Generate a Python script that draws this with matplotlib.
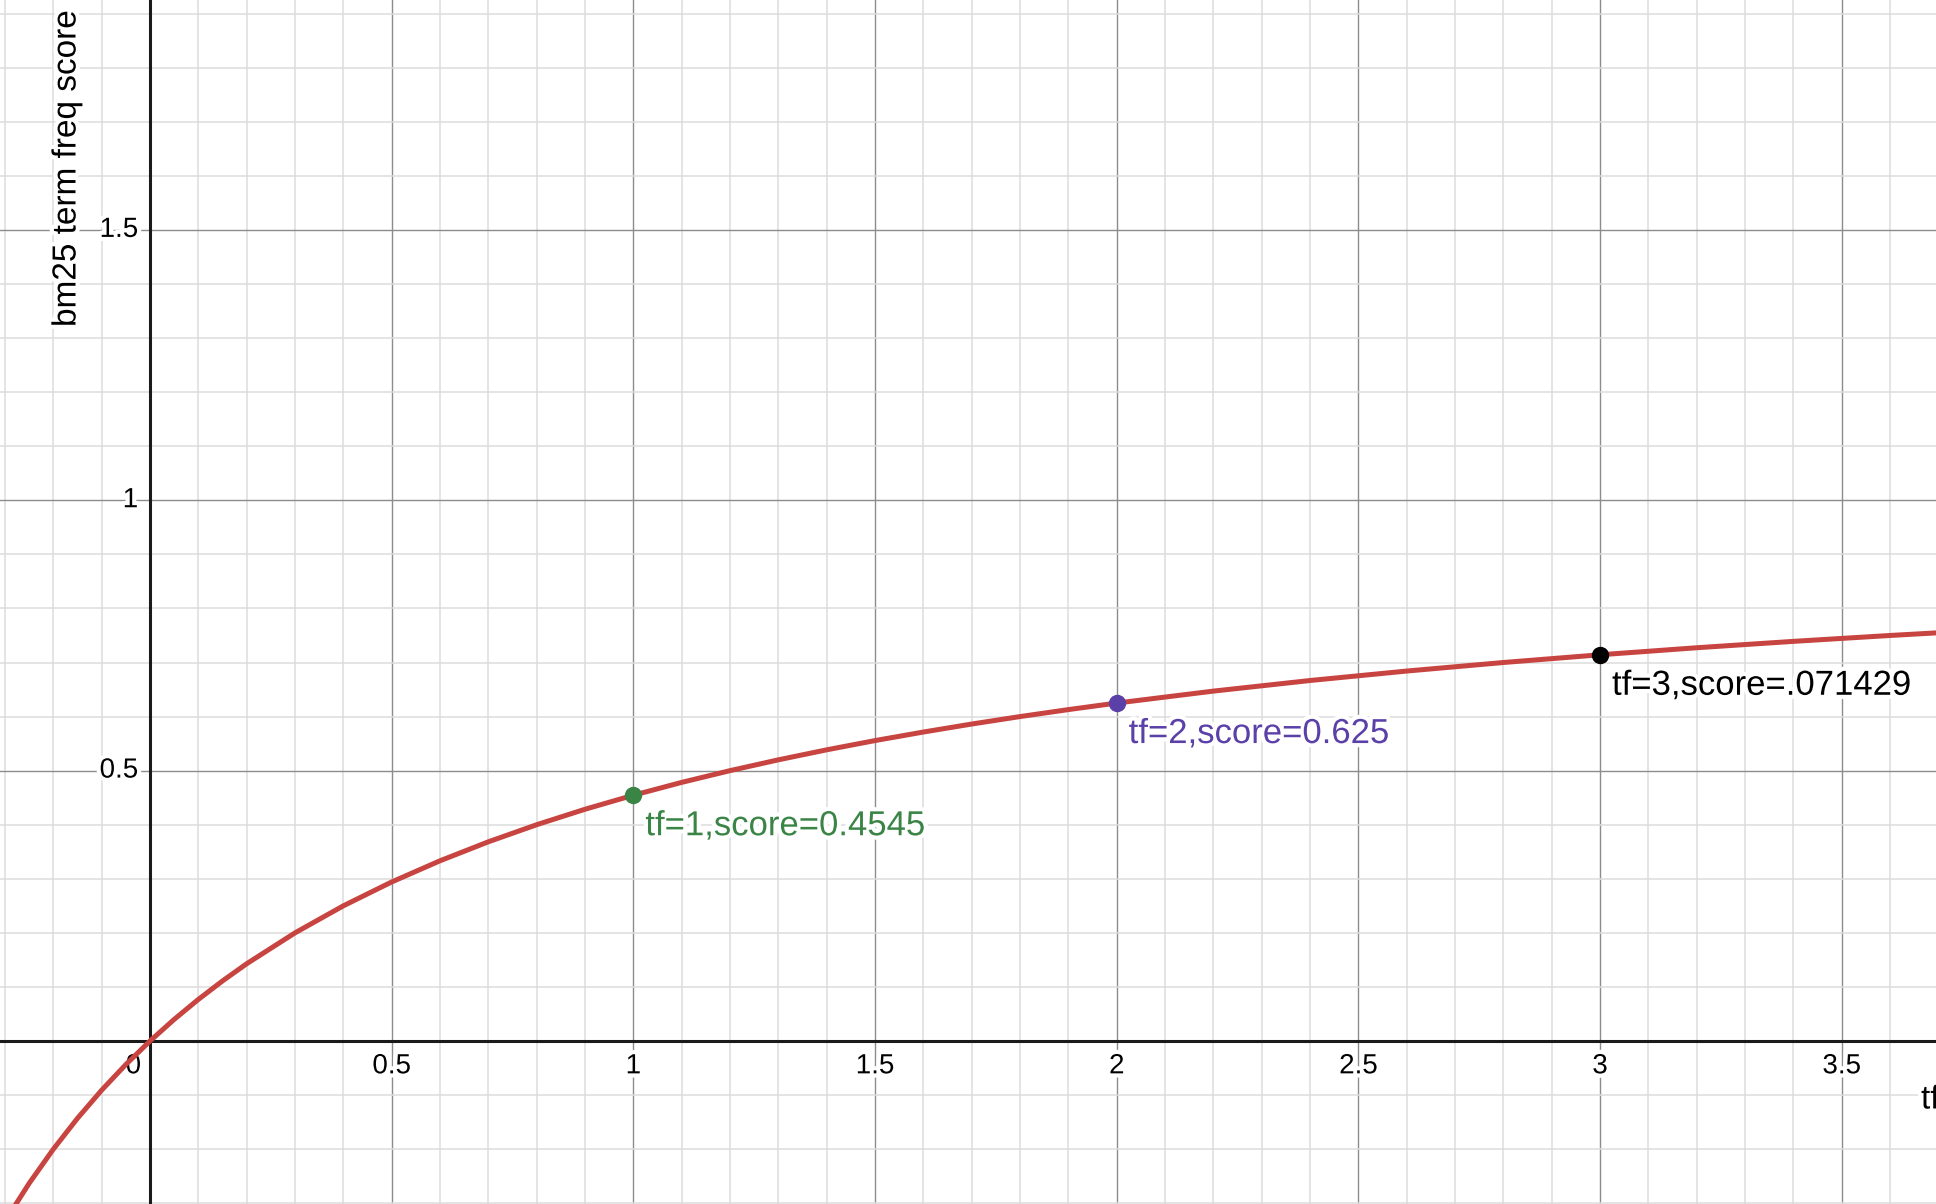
import numpy as np
import matplotlib
matplotlib.use("Agg")
import matplotlib.pyplot as plt
import matplotlib.patheffects as pe

# bm25 term frequency saturation curve
tf = [-0.33, -0.3, -0.25, -0.2, -0.15, -0.1, -0.05, 0, 0.05, 0.1, 0.15, 0.2,
      0.3, 0.4, 0.5, 0.6, 0.7, 0.8, 0.9, 1.0, 1.1, 1.2, 1.3, 1.4, 1.5, 1.6,
      1.7, 1.8, 1.9, 2.0, 2.2, 2.4, 2.6, 2.8, 3.0, 3.2, 3.4, 3.6, 3.8]
score = [-0.3793, -0.3333, -0.2632, -0.2, -0.1429, -0.0909, -0.0435, 0, 0.04,
         0.0769, 0.1111, 0.1429, 0.2, 0.25, 0.2941, 0.3333, 0.3684, 0.4, 0.4286,
         0.4545, 0.4783, 0.5, 0.52, 0.5385, 0.5556, 0.5714, 0.5862, 0.6, 0.6129,
         0.625, 0.6471, 0.6667, 0.6842, 0.7, 0.7143, 0.7273, 0.7391, 0.75, 0.76]

# highlighted points
pt_x = [1, 2, 3]
pt_y = [0.4545, 0.625, 0.7143]
pt_labels = ["tf=1,score=0.4545", "tf=2,score=0.625", "tf=3,score=.071429"]
pt_colors = ["#3a8446", "#5b40a8", "#000000"]

xtick_vals = [0.5, 1, 1.5, 2, 2.5, 3, 3.5]
xtick_labels = ["0.5", "1", "1.5", "2", "2.5", "3", "3.5"]
ytick_vals = [0.5, 1, 1.5]
ytick_labels = ["0.5", "1", "1.5"]

plt.rcParams['font.family'] = ['Liberation Sans', 'DejaVu Sans']

fig = plt.figure(figsize=(19.36, 12.04), dpi=100)
ax = fig.add_axes([0, 0, 1, 1])
ax.set_axisbelow(True)

# desmos style grid
ax.set_xticks(np.arange(-0.5, 4.01, 0.5))
ax.set_yticks(np.arange(-0.5, 2.01, 0.5))
ax.set_xticks(np.arange(-0.5, 4.01, 0.1), minor=True)
ax.set_yticks(np.arange(-0.5, 2.01, 0.1), minor=True)
ax.grid(which='minor', color='#dcdcdc', lw=1.1)
ax.grid(which='major', color='#8c8c8c', lw=1.0)
ax.tick_params(which='both', length=0, labelbottom=False, labelleft=False)
for s in ax.spines.values():
    s.set_visible(False)

ax.axhline(0, color='#1a1a1a', lw=2.2, zorder=2)
ax.axvline(0, color='#1a1a1a', lw=2.2, zorder=2)

halo = [pe.withStroke(linewidth=6, foreground='white')]

# tick labels drawn along the axes
for v, lab in zip(xtick_vals, xtick_labels):
    ax.annotate(lab, (v, 0), xytext=(0, -23.3), textcoords='offset points',
                ha='center', va='baseline', fontsize=20, path_effects=halo, zorder=3)
ax.annotate("0", (0, 0), xytext=(-12, -23.3), textcoords='offset points',
            ha='center', va='baseline', fontsize=20, path_effects=halo, zorder=3)
for v, lab in zip(ytick_vals, ytick_labels):
    ax.annotate(lab, (0, v), xytext=(-8.5, -5), textcoords='offset points',
                ha='right', va='baseline', fontsize=20, path_effects=halo, zorder=3)

ax.plot(tf, score, color='#c74440', lw=3.6, zorder=4, solid_capstyle='round')

for x, y, lab, c in zip(pt_x, pt_y, pt_labels, pt_colors):
    ax.plot(x, y, 'o', color=c, ms=11.5, zorder=5)
    ax.annotate(lab, (x, y), xytext=(8.6, -28.8), textcoords='offset points',
                ha='left', va='baseline', fontsize=25, color=c, path_effects=halo, zorder=6)

# axis labels
fig.text(67 / 1936, 1 - 10 / 1204, "bm25 term freq score", rotation=90,
         ha='center', va='top', fontsize=24, path_effects=halo)
fig.text(1921 / 1936, 1 - 1100 / 1204, "tf", ha='left', va='center',
         fontsize=24, path_effects=halo)

ax.set_xlim(-0.3104, 3.695)
ax.set_ylim(-0.3015, 1.9253)

plt.savefig('out.png', dpi=100)
